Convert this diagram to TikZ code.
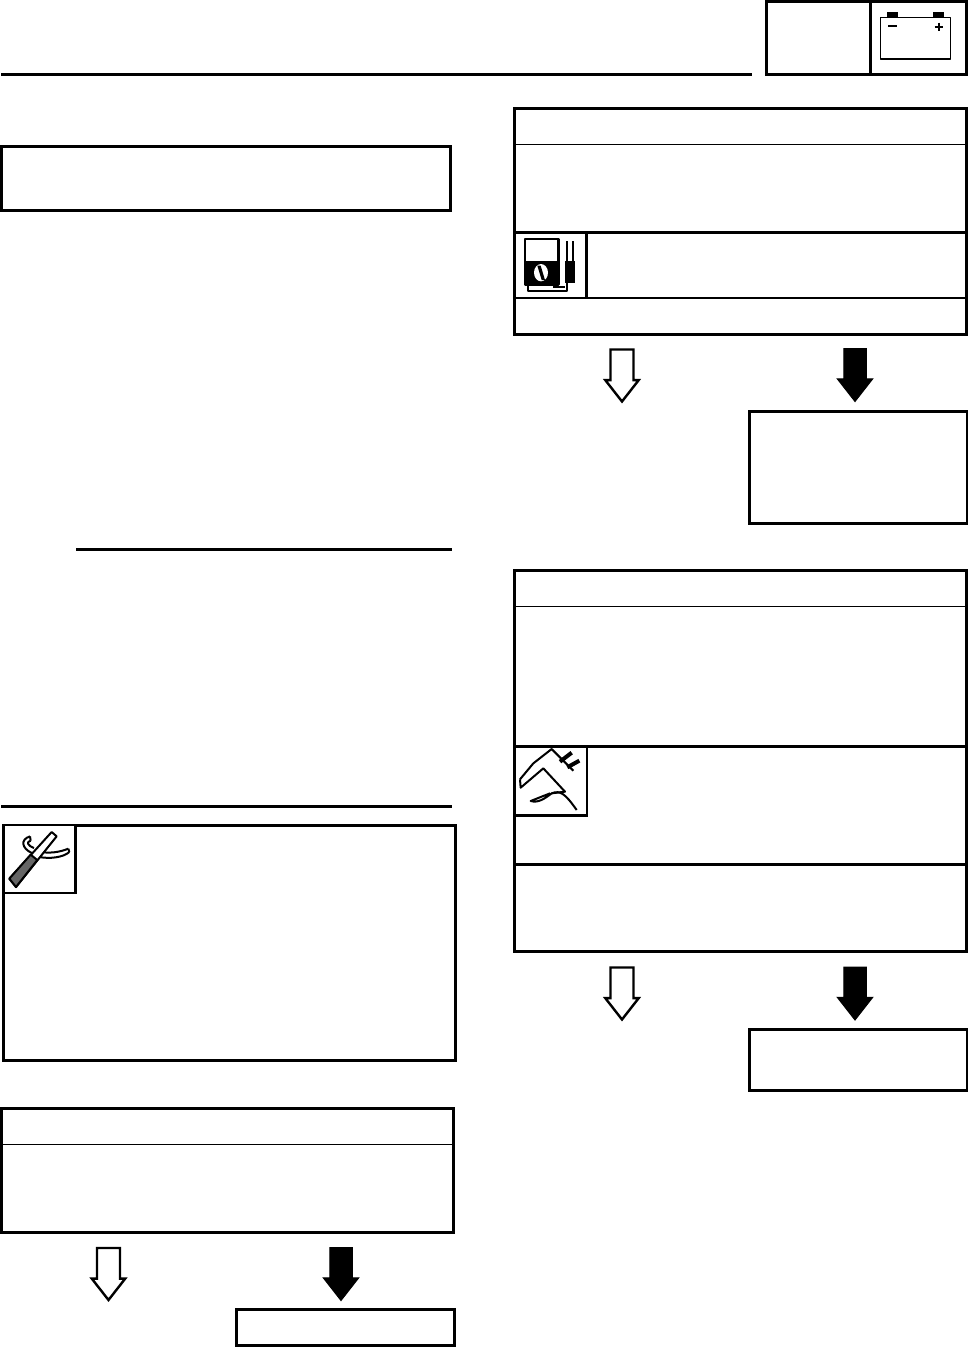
\documentclass[tikz,border=0pt]{standalone}
\usepackage{tikz}
\usetikzlibrary{shapes.arrows}

\begin{document}
\begin{tikzpicture}[
    x=1pt, y=-1pt,
    box/.style={rectangle, draw=black, fill=white, line width=3pt,
                inner sep=0pt, outer sep=0pt, anchor=north west},
    arrbase/.style={single arrow, shape border rotate=270, draw=black,
                    inner sep=0pt, outer sep=0pt, anchor=tip,
                    single arrow tip angle=76, miter limit=4},
    okarr/.style={arrbase, fill=white, line width=2.4pt, text width=20.6pt,
                  minimum height=52pt, minimum width=31pt,
                  single arrow head extend=5.2pt},
    ngarr/.style={arrbase, fill=black, line width=1pt, text width=21.5pt,
                  minimum height=53pt, minimum width=34.5pt,
                  single arrow head extend=6.5pt},
    rule/.style={draw=black, line width=3pt},
    divthin/.style={draw=black, line width=1.2pt},
    divthick/.style={draw=black, line width=2.6pt},
    icn/.style={draw=black, line width=2pt, line join=round},
]
    % column centers
    \def\colLok{108.5}
    \def\colLng{341}
    \def\colRok{622}
    \def\colRng{855}

    \useasboundingbox (0,0) rectangle (968,1347);

    % Page header
    \draw[rule] (1,74.4) coordinate (headL) -- (752,74.4) coordinate (headR);
    \node[box, minimum width=200pt, minimum height=73pt] (hdrbox) at (766.5,1.5) {};
    \coordinate (hdrdiv) at (870.7,0);
    \draw[divthick] (hdrbox.north -| hdrdiv) -- (hdrbox.south -| hdrdiv);

    % Left column
    \node[box, minimum width=449pt, minimum height=64pt] (goal) at (1.5,146.5) {};
    \draw[rule] (76,549.5) coordinate (ruleAa) -- (452,549.5) coordinate (ruleAb);
    \draw[rule] (1,806) coordinate (ruleBa) -- (452,806) coordinate (ruleBb);
    \node[box, minimum width=452pt, minimum height=235.5pt] (pliers) at (3.5,825) {};
    \node[box, line width=2.4pt, minimum width=72pt, minimum height=68pt] (pliersico) at (3.5,825) {};
    \node[box, minimum width=452pt, minimum height=124pt] (chkL) at (1.5,1108.5) {};
    \draw[divthin] (chkL.west |- 0,1144.5) -- (chkL.east |- 0,1144.5);
    \node[okarr] (okL) at (\colLok,1300) {};
    \node[ngarr] (ngL) at (\colLng,1300.5) {};
    \node[box, minimum width=218pt, minimum height=36pt] (fixL) at (236,1309.5) {};

    % Right column, first check
    \node[box, minimum width=452pt, minimum height=225.5pt] (chkA) at (514.5,108.7) {};
    \draw[divthin] (chkA.west |- 0,144.5) -- (chkA.east |- 0,144.5);
    \draw[divthick] (chkA.west |- 0,232.5) -- (chkA.east |- 0,232.5);
    \draw[divthick] (chkA.west |- 0,298) -- (chkA.east |- 0,298);
    \draw[divthick] (586.5,232.5) coordinate (meterT) -- (586.5,298) coordinate (meterB);
    \node[okarr] (okA) at (\colRok,401.5) {};
    \node[ngarr] (ngA) at (\colRng,401.5) {};
    \node[box, minimum width=218pt, minimum height=112.5pt] (fixA) at (749,411) {};

    % Right column, second check
    \node[box, minimum width=452pt, minimum height=381pt] (chkB) at (514.5,570.5) {};
    \draw[divthin] (chkB.west |- 0,606.5) -- (chkB.east |- 0,606.5);
    \draw[divthick] (chkB.west |- 0,746.5) -- (chkB.east |- 0,746.5);
    \draw[divthick] (chkB.west |- 0,864.5) -- (chkB.east |- 0,864.5);
    \node[box, line width=2.4pt, minimum width=72.2pt, minimum height=69pt] (gaugeico) at (514.5,746.5) {};
    \node[okarr] (okB) at (\colRok,1019.5) {};
    \node[ngarr] (ngB) at (\colRng,1020) {};
    \node[box, minimum width=218pt, minimum height=61pt] (fixB) at (749,1029.5) {};

    % Battery
    \begin{scope}[shift={(760,0)}, scale=1/3]
        \draw[icn, line width=1.4pt] (362,53) rectangle (571,177);
        \fill (380,37) rectangle (415,53);
        \fill (518,37) rectangle (553,53);
        \draw[icn, line width=2.2pt] (385,78) -- (410,78);
        \draw[icn, line width=2.2pt] (524,80) -- (549,80);
        \draw[icn, line width=2.2pt] (536,68) -- (536,92);
    \end{scope}

    % Meter
    \begin{scope}[shift={(510,225)}, scale=1/3]
        \draw[icn, line width=2.4pt] (45,42) rectangle (145,178);
        \fill (45,108) rectangle (145,178);
        \fill[white] (93,143) ellipse (21 and 26);
        \fill (82,122) -- (92,122) -- (105,165) -- (95,165) -- cycle;
        \draw[icn] (170,48) -- (170,110);
        \draw[icn] (188,48) -- (188,110);
        \fill (165,108) rectangle (195,175);
        \draw[icn] (55,178) -- (55,197) -- (172,197) -- (172,175);
        \draw[icn] (130,185) -- (165,185);
    \end{scope}

    % Caliper
    \begin{scope}[shift={(510,740)}, scale=1/3]
        \draw[icn] (30,118) -- (70,70) -- (125,27) -- (190,92);
        \draw[icn] (30,118) -- (32,143) -- (100,85) -- (165,155) -- (125,160)
            .. controls (105,175) and (85,190) .. (62,183) -- (120,160);
        \draw[icn] (125,160) .. controls (150,150) and (165,160) .. (200,210);
        \draw[line width=4pt] (150,65) -- (185,38);
        \draw[line width=4pt] (172,82) -- (208,62);
    \end{scope}

    % Pliers
    \begin{scope}[shift={(0,818)}, scale=1/3]
        \draw[icn] (95,105) .. controls (65,90) and (60,65) .. (90,55);
        \draw[icn] (102,90) .. controls (82,82) and (78,72) .. (92,68);
        \draw[icn] (90,55) -- (92,68);
        \draw[icn] (110,100) .. controls (150,108) and (180,102) .. (205,92);
        \draw[icn] (112,116) .. controls (150,124) and (190,118) .. (208,102);
        \draw[icn] (205,92) -- (208,102);
        \draw[icn, fill=white] (28,182) -- (155,42) -- (170,55) -- (48,207) -- cycle;
        \draw[icn, fill=black!60] (28,182) -- (92,110) -- (112,126) -- (48,207) -- cycle;
    \end{scope}
\end{tikzpicture}
\end{document}
